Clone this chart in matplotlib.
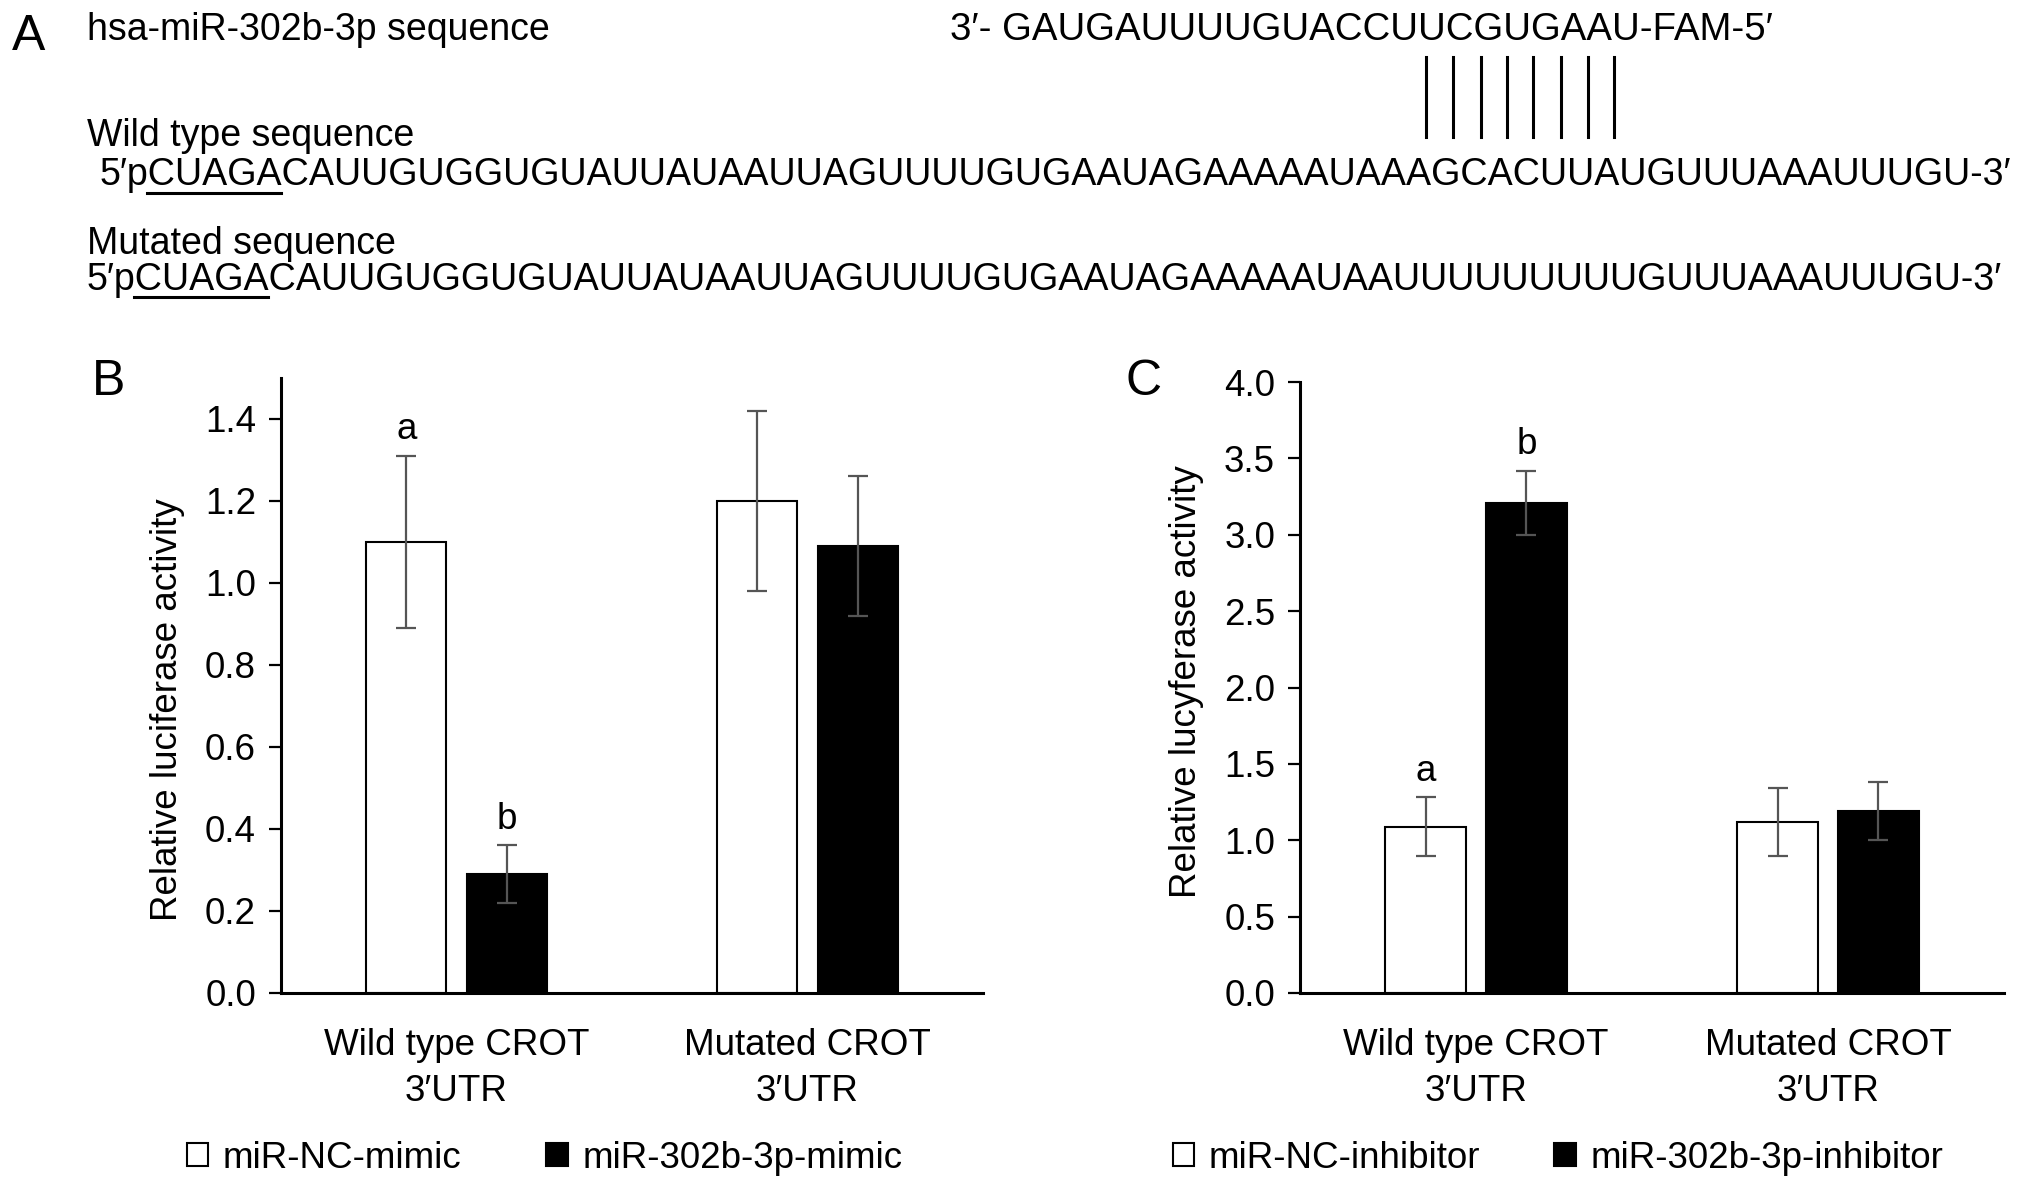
import numpy as np
import matplotlib
matplotlib.use("Agg")
import matplotlib.pyplot as plt
from matplotlib.patches import Patch
from matplotlib.lines import Line2D

plt.rcParams['font.family'] = ['Liberation Sans', 'DejaVu Sans']

W, H = 2032, 1190
FS = 26.5

# panel A text
mirna_name = "hsa-miR-302b-3p sequence"
mirna_seq = "3′- GAUGAUUUUGUACCUUCGUGAAU-FAM-5′"
wt_title = "Wild type sequence"
wt_seq = "5′pCUAGACAUUGUGGUGUAUUAUAAUUAGUUUUGUGAAUAGAAAAAUAAAGCACUUAUGUUUAAAUUUGU-3′"
mut_title = "Mutated sequence"
mut_seq = "5′pCUAGACAUUGUGGUGUAUUAUAAUUAGUUUUGUGAAUAGAAAAAUAAUUUUUUUUUGUUUAAAUUUGU-3′"
seed_site = "AGCACUUA"

# panels B and C
groups = ["Wild type CROT\n3′UTR", "Mutated CROT\n3′UTR"]

b_nc = [1.10, 1.20]
b_nc_err = [0.21, 0.22]
b_mir = [0.29, 1.09]
b_mir_err = [0.07, 0.17]
b_legend = ["miR-NC-mimic", "miR-302b-3p-mimic"]

c_nc = [1.09, 1.12]
c_nc_err = [0.19, 0.22]
c_mir = [3.21, 1.19]
c_mir_err = [0.21, 0.19]
c_legend = ["miR-NC-inhibitor", "miR-302b-3p-inhibitor"]


def fx(px):
    return px / W


def fy(py):
    return 1 - py / H


fig = plt.figure(figsize=(W / 100, H / 100), dpi=100)
renderer = fig.canvas.get_renderer()


def text_width(s, size):
    t = fig.text(0, 0, s, fontsize=size)
    w = t.get_window_extent(renderer).width
    t.remove()
    return w


# ---- panel A ----
fig.text(fx(12), fy(50), "A", fontsize=36, va='baseline')
fig.text(fx(87), fy(40), mirna_name, fontsize=27, va='baseline')
fig.text(fx(87), fy(146), wt_title, fontsize=27, va='baseline')
fig.text(fx(87), fy(254), mut_title, fontsize=27, va='baseline')

seq_fs = 28 * 1918 / text_width(mut_seq, 28)
fig.text(fx(950), fy(40), mirna_seq, fontsize=seq_fs * 1.02, va='baseline')
fig.text(fx(100), fy(185), wt_seq, fontsize=seq_fs, va='baseline')
fig.text(fx(87), fy(290), mut_seq, fontsize=seq_fs, va='baseline')

# underline the XbaI site
pre = text_width("5′p", seq_fs)
site = text_width("5′pCUAGA", seq_fs)
for x0, yl in [(100, 193), (87, 297)]:
    fig.add_artist(Line2D([fx(x0 + pre - 2), fx(x0 + site - 2)], [fy(yl), fy(yl)],
                          color='black', lw=2.2))

# base-pairing ticks
i0 = wt_seq.find(seed_site)
for k in range(len(seed_site)):
    a = text_width(wt_seq[:i0 + k], seq_fs)
    b = text_width(wt_seq[:i0 + k + 1], seq_fs)
    xc = 100 + (a + b) / 2 + 6
    fig.add_artist(Line2D([fx(xc), fx(xc)], [fy(57), fy(137)], color='black', lw=2.2))


# ---- bar panels ----
def bar_panel(rect, nc, nc_err, mir, mir_err, ymax, ticks, ylabel, label_y, legend, leg_x, colsp):
    ax = fig.add_axes(rect)
    x = np.arange(len(groups))
    off, w = 0.143, 0.229
    ax.bar(x - off, nc, w, color='white', edgecolor='black', lw=1.5, zorder=2)
    ax.bar(x + off, mir, w, color='black', edgecolor='black', lw=1.5, zorder=2)
    for xs, v, e in [(x - off, nc, nc_err), (x + off, mir, mir_err)]:
        ax.errorbar(xs, v, yerr=e, fmt='none', ecolor='#555555', elinewidth=1.6,
                    capsize=7, capthick=1.6, zorder=3)
    ax.annotate("a", (x[0] - off, nc[0] + nc_err[0]), xytext=(0, 19),
                textcoords='offset points', ha='center', va='center', fontsize=FS)
    ax.annotate("b", (x[0] + off, mir[0] + mir_err[0]), xytext=(0, 19),
                textcoords='offset points', ha='center', va='center', fontsize=FS)
    ax.set_xlim(-0.5, 1.5)
    ax.set_ylim(0, ymax)
    ax.set_yticks(ticks)
    ax.set_yticklabels([f"{t:.1f}" for t in ticks])
    ax.set_xticks(x)
    ax.set_xticklabels(groups, linespacing=1.4)
    for s in ['top', 'right']:
        ax.spines[s].set_visible(False)
    for s in ['left', 'bottom']:
        ax.spines[s].set_linewidth(2.2)
    ax.tick_params(axis='y', direction='out', length=9, width=1.6, pad=9, labelsize=FS)
    ax.tick_params(axis='x', length=0, pad=25, labelsize=FS)
    ax.set_ylabel(ylabel, fontsize=FS)
    ax.yaxis.set_label_coords(-0.137, label_y)
    handles = [Patch(facecolor='white', edgecolor='black', lw=1.5),
               Patch(facecolor='black', edgecolor='black', lw=1.5)]
    ax.legend(handles, legend, loc='center left', bbox_to_anchor=(fx(leg_x), fy(1158)),
              bbox_transform=fig.transFigure, ncol=2, frameon=False, fontsize=FS,
              handlelength=0.58, handleheight=0.58, handletextpad=0.4,
              columnspacing=colsp, borderpad=0, borderaxespad=0)
    return ax


bar_panel([fx(281), fy(993), 702 / W, 615 / H], b_nc, b_nc_err, b_mir, b_mir_err,
          1.5, np.arange(0, 1.41, 0.2), "Relative luciferase activity", 0.46,
          b_legend, 187, 2.3)
bar_panel([fx(1300), fy(993), 704 / W, 611 / H], c_nc, c_nc_err, c_mir, c_mir_err,
          4.0, np.arange(0, 4.01, 0.5), "Relative lucyferase activity", 0.51,
          c_legend, 1173, 2.0)

fig.text(fx(92), fy(395), "B", fontsize=36, va='baseline')
fig.text(fx(1126), fy(395), "C", fontsize=36, va='baseline')

fig.savefig("out.png", dpi=100)
